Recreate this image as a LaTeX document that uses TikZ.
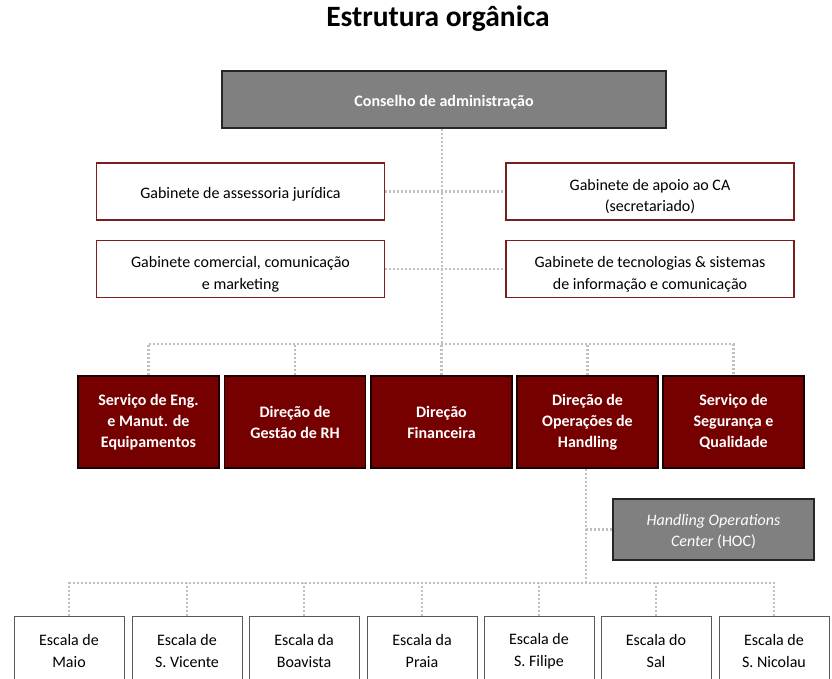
\documentclass[tikz,border=0pt]{standalone}
\usepackage{fontspec}
\setmainfont{Carlito}
\usetikzlibrary{backgrounds}
\definecolor{bordo}{HTML}{760000}
\definecolor{cinza}{HTML}{808080}
\definecolor{pontos}{HTML}{C0C0C0}
\definecolor{linhagab}{HTML}{7A1E1E}
\begin{document}
\begin{tikzpicture}[x=1pt,y=-1pt,
        texto/.style={font=\fontsize{16}{21.5}\selectfont, align=center, inner sep=0pt},
        desce/.style={execute at begin node={\rule{0pt}{#1}}},
        conselho/.style={texto, draw=black!85, line width=1.5pt, fill=cinza, text=white, font=\fontsize{16}{21.5}\selectfont\bfseries, minimum width=444pt, minimum height=57pt},
        gabinete/.style={texto, draw=linhagab, line width=1.3pt, fill=white, minimum width=288pt, minimum height=57pt},
        direcao/.style={texto, draw=black!80!bordo, line width=1.5pt, fill=bordo, text=white, font=\fontsize{16}{21}\selectfont\bfseries, minimum width=141pt, minimum height=92pt},
        hocbox/.style={texto, draw=black!85, line width=1.3pt, fill=cinza, text=white, minimum width=201pt, minimum height=61pt},
        escala/.style={texto, draw=black!65, line width=1pt, fill=white, minimum width=110pt, minimum height=70pt},
        ligacao/.style={draw=pontos, line width=2.4pt, dash pattern=on 2pt off 2pt}]
    \useasboundingbox (0,0) rectangle (832,678);

    % titulo e topo
    \node[font=\fontsize{29.5}{34}\selectfont\bfseries] (titulo) at (438,19) {Estrutura orgânica};
    \node[conselho, desce=16pt] (conselho) at (444,99.5) {Conselho de administração};

    % gabinetes
    \node[gabinete, desce=16pt] (gabJur) at (240.5,191.5) {Gabinete de assessoria jurídica};
    \node[gabinete, desce=43pt] (gabCom) at (240.5,269) {Gabinete comercial, comunicação\\e marketing};
    \node[gabinete, desce=43pt] (gabApoio) at (650,191.5) {Gabinete de apoio ao CA\\(secretariado)};
    \node[gabinete, desce=43pt] (gabTec) at (650,269) {Gabinete de tecnologias \& sistemas\\de informação e comunicação};

    % direcoes e servicos
    \node[direcao] (dir1) at (148.5,422) {Serviço de Eng.\\e Manut. de\\Equipamentos};
    \node[direcao] (dir2) at (295,422) {Direção de\\Gestão de RH};
    \node[direcao] (dir3) at (441.5,422) {Direção\\Financeira};
    \node[direcao] (dir4) at (587.5,422) {Direção de\\Operações de\\Handling};
    \node[direcao] (dir5) at (733.5,422) {Serviço de\\Segurança e\\Qualidade};

    \node[hocbox, desce=37pt] (hoc) at (713.5,529.5) {\textit{Handling Operations}\\\textit{Center} (HOC)};

    % escalas
    \node[escala] (esc1) at (69,651) {Escala de\\Maio};
    \node[escala] (esc2) at (187,651) {Escala de\\S. Vicente};
    \node[escala] (esc3) at (304,651) {Escala da\\Boavista};
    \node[escala] (esc4) at (422,651) {Escala da\\Praia};
    \node[escala] (esc5) at (539,651) {Escala de\\S. Filipe};
    \node[escala] (esc6) at (656,651) {Escala do\\Sal};
    \node[escala] (esc7) at (774,651) {Escala de\\S. Nicolau};

    % ligacoes
    \coordinate (barra1) at (442,344);
    \coordinate (barra2) at (586,583);
    \begin{scope}[on background layer]
    \draw[ligacao] (conselho.south -| barra1) -- (barra1);
    \draw[ligacao] (gabJur.east) -- (gabApoio.west);
    \draw[ligacao] (gabCom.east) -- (gabTec.west);
    \draw[ligacao] (dir1.north) |- (barra1) -| (dir5.north);
    \foreach \i in {2,3,4}
        \draw[ligacao] (dir\i.north) -- (dir\i.north |- barra1);
    \draw[ligacao] (dir4.south -| barra2) -- (barra2);
    \draw[ligacao] (hoc.west) -- (hoc.west -| barra2);
    \draw[ligacao] (esc1.north) |- (barra2) -| (esc7.north);
    \foreach \i in {2,...,6}
        \draw[ligacao] (esc\i.north) -- (esc\i.north |- barra2);
    \end{scope}
\end{tikzpicture}
\end{document}
